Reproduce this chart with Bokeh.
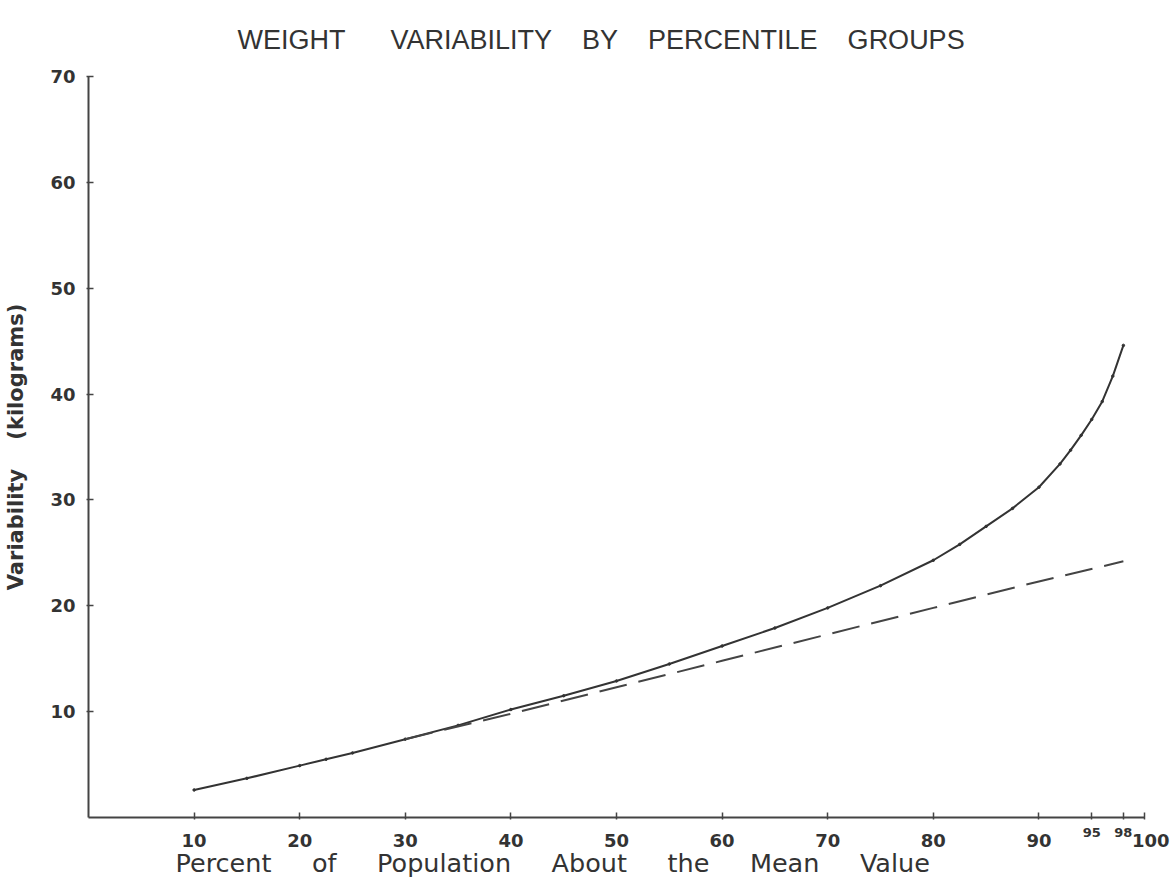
from bokeh.plotting import figure
from bokeh.models import Range1d, Title, FixedTicker, LinearAxis
from bokeh.embed import file_html
from bokeh.resources import INLINE

# ---- data ----
x_ticks = [10, 20, 30, 40, 50, 60, 70, 80, 90, 95, 98, 100]
x_tick_labels = ["10", "20", "30", "40", "50", "60", "70", "80", "90", "95", "98", "100"]
small_tick_x = [95, 98]          # these two are lettered small and raised
y_ticks = [10, 20, 30, 40, 50, 60, 70]
y_tick_labels = ["10", "20", "30", "40", "50", "60", "70"]

solid_x = [10, 15, 20, 22.5, 25, 30, 35, 40, 45, 50, 55, 60, 65, 70, 75, 80, 82.5, 85,
           87.5, 90, 92, 93, 94, 95, 96, 97, 98]
solid_y = [2.6, 3.7, 4.9, 5.5, 6.1, 7.4, 8.7, 10.2, 11.5, 12.9, 14.5, 16.2, 17.9, 19.8, 21.9,
           24.3, 25.8, 27.5, 29.2, 31.2, 33.4, 34.7, 36.1, 37.6, 39.3, 41.7, 44.6]

dashed_x = [30, 40, 50, 60, 70, 80, 90, 98]
dashed_y = [7.4, 9.8, 12.3, 14.8, 17.3, 19.8, 22.3, 24.2]

NB = "\u00a0"
TITLE = ("WEIGHT" + NB * 6 + "VARIABILITY" + NB * 4 + "BY" + NB * 4 + "PERCENTILE" + NB * 4 + "GROUPS")
X_LABEL = (NB * 5).join(["Percent", "of", "Population", "About", "the", "Mean", "Value"])
Y_LABEL = "Variability" + NB * 4 + "(kilograms)"

INK = "#333333"
AXC = "#444444"

p = figure(width=1171, height=884, output_backend="svg", toolbar_location=None,
           x_range=Range1d(0, 100), y_range=Range1d(0, 70), x_axis_location=None,
           min_border_left=88, min_border_right=27, min_border_top=76, min_border_bottom=67)
p.outline_line_color = None
p.grid.grid_line_color = None
p.background_fill_color = "white"
p.border_fill_color = "white"

p.title.text = TITLE
p.title.align = "left"
p.title.offset = 149
p.title.text_font = "Liberation Sans"
p.title.text_font_size = "27px"
p.title.text_font_style = "normal"
p.title.text_color = INK
p.title.standoff = 44

# axis next to the frame: line, all ticks, and the small raised labels (95, 98)
near = LinearAxis(ticker=FixedTicker(ticks=x_ticks))
near.major_label_overrides = {t: (l if t in small_tick_x else "") for t, l in zip(x_ticks, x_tick_labels)}
near.axis_line_color = AXC
near.axis_line_width = 2
near.major_tick_line_color = AXC
near.major_tick_line_width = 1.5
near.major_tick_in = 5
near.major_tick_out = 2
near.minor_tick_line_color = None
near.major_label_standoff = 8
near.major_label_text_font = "DejaVu Sans"
near.major_label_text_font_style = "bold"
near.major_label_text_font_size = "13px"
near.major_label_text_color = INK
p.add_layout(near, "below")

# main tick lettering (no line, no ticks); "100" is lettered just right of its tick
main_ticks = [t for t in x_ticks if t not in small_tick_x]
main = LinearAxis(ticker=FixedTicker(ticks=main_ticks))
main.major_label_overrides = {t: (NB * 2 + l if t == 100 else l)
                              for t, l in zip(x_ticks, x_tick_labels) if t not in small_tick_x}
main.axis_line_color = None
main.major_tick_line_color = None
main.minor_tick_line_color = None
main.major_tick_in = 0
main.major_tick_out = 0
main.major_label_standoff = -10
main.major_label_text_font = "DejaVu Sans"
main.major_label_text_font_style = "bold"
main.major_label_text_font_size = "18px"
main.major_label_text_color = INK
p.add_layout(main, "below")

ya = p.yaxis[0]
ya.ticker = FixedTicker(ticks=y_ticks)
ya.major_label_overrides = {t: l for t, l in zip(y_ticks, y_tick_labels)}
ya.axis_line_color = AXC
ya.axis_line_width = 2
ya.major_tick_line_color = AXC
ya.major_tick_line_width = 1.5
ya.major_tick_in = 5
ya.major_tick_out = 2
ya.minor_tick_line_color = None
ya.major_label_standoff = 11
ya.major_label_text_font = "DejaVu Sans"
ya.major_label_text_font_style = "bold"
ya.major_label_text_font_size = "18px"
ya.major_label_text_color = INK
ya.axis_label = Y_LABEL
ya.axis_label_text_font = "DejaVu Sans"
ya.axis_label_text_font_size = "21px"
ya.axis_label_text_font_style = "bold"
ya.axis_label_text_color = INK
ya.axis_label_standoff = 19

xlab = Title(text=X_LABEL, align="left", offset=87, standoff=-15,
             text_font="DejaVu Sans", text_font_size="25.5px",
             text_font_style="normal", text_color=INK)
p.add_layout(xlab, "below")

p.line(solid_x, solid_y, line_color=INK, line_width=2)
p.scatter(solid_x, solid_y, size=2.5, color=INK)
p.line(dashed_x, dashed_y, line_color=AXC, line_width=2, line_dash="28 12")

open("out.html", "w").write(file_html(p, INLINE))
